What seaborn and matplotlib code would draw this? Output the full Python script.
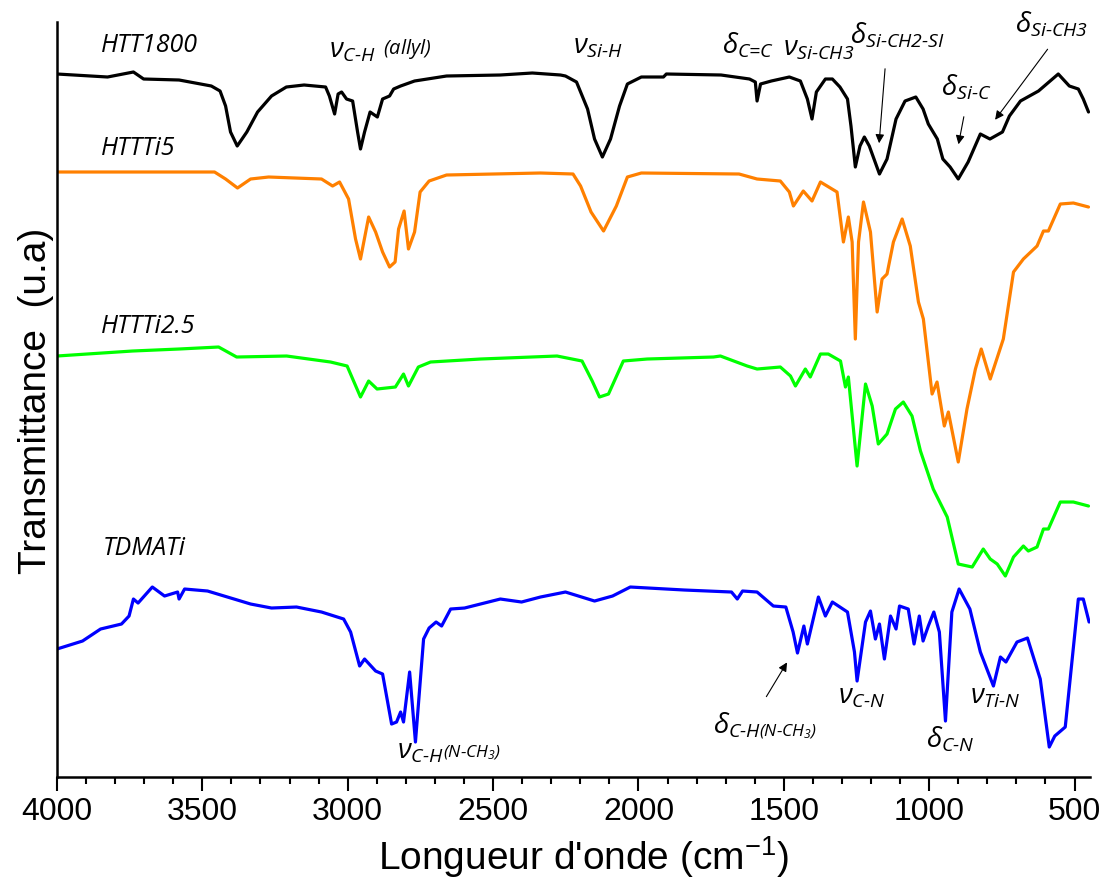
import numpy as np
import pandas as pd
import matplotlib
matplotlib.use("Agg")
import matplotlib.pyplot as plt
from matplotlib.ticker import MultipleLocator
import seaborn as sns

# wavenumbers (cm-1) and transmittance (arbitrary units, stacked)
wn_htt1800 = [4000, 3826, 3737, 3702, 3580, 3469, 3439, 3420, 3403, 3380, 3347, 3310, 3262, 3211,
              3150, 3076, 3063, 3045, 3033, 3021, 3004, 2983, 2966, 2956, 2942, 2923, 2898, 2880,
              2856, 2842, 2818, 2770, 2660, 2475, 2365, 2268, 2251, 2213, 2175, 2151, 2124, 2096,
              2065, 2038, 1990, 1914, 1904, 1716, 1618, 1598, 1592, 1580, 1543, 1481, 1443, 1419,
              1403, 1388, 1357, 1333, 1307, 1281, 1269, 1254, 1238, 1223, 1206, 1171, 1145, 1114,
              1083, 1046, 1021, 1003, 972, 953, 928, 900, 866, 824, 791, 748, 724, 686, 624, 556,
              518, 487, 470, 452]
t_htt1800 = [703, 700, 705, 698, 697, 691, 686, 671, 645, 631, 645, 665, 681, 690,
             692, 690, 681, 663, 683, 685, 678, 676, 645, 628, 645, 665, 660, 678,
             681, 688, 691, 696, 701, 702, 704, 702, 701, 695, 668, 638, 620, 638,
             671, 693, 700, 700, 703, 702, 698, 695, 676, 693, 696, 700, 696, 678,
             658, 685, 698, 698, 690, 678, 651, 610, 631, 640, 631, 603, 618, 658,
             676, 680, 668, 653, 638, 618, 610, 598, 615, 643, 638, 645, 661, 676, 686, 703,
             691, 688, 678, 665]

wn_htti5 = [4000, 3458, 3420, 3379, 3334, 3272, 3090, 3052, 3028, 2997, 2973, 2956, 2928, 2904,
            2880, 2856, 2837, 2825, 2806, 2791, 2770, 2751, 2720, 2660, 2337, 2225, 2199, 2163,
            2120, 2076, 2038, 1990, 1654, 1592, 1512, 1481, 1467, 1433, 1403, 1374, 1317, 1295,
            1278, 1265, 1254, 1243, 1226, 1202, 1179, 1162, 1145, 1123, 1093, 1065, 1037, 1020,
            990, 973, 948, 934, 900, 870, 841, 821, 790, 745, 710, 676, 629, 607, 590, 549,
            504, 452]
t_htti5 = [605, 605, 598, 589, 598, 600, 598, 591, 595, 578, 538, 518, 560, 545,
           525, 510, 515, 548, 566, 528, 545, 585, 596, 602, 604, 603, 591, 565,
           546, 571, 600, 604, 603, 598, 596, 585, 571, 586, 576, 595, 585, 535,
           560, 535, 438, 535, 575, 545, 465, 498, 503, 535, 558, 531, 475, 458,
           383, 395, 351, 365, 315, 368, 408, 428, 398, 438, 505, 518, 531, 546, 546, 573,
           574, 570]

wn_htti25 = [4000, 3740, 3580, 3444, 3382, 3210, 3059, 3002, 2956, 2928, 2899, 2836, 2808, 2791,
             2757, 2715, 2543, 2280, 2194, 2159, 2134, 2103, 2052, 1970, 1742, 1718, 1626, 1592,
             1512, 1477, 1460, 1426, 1409, 1374, 1347, 1305, 1288, 1278, 1248, 1219, 1196, 1175,
             1145, 1116, 1089, 1059, 1030, 986, 938, 900, 852, 814, 790, 766, 738, 710, 676,
             659, 629, 607, 590, 549, 504, 452]
t_htti25 = [421, 426, 428, 430, 420, 421, 415, 411, 380, 396, 388, 390, 403, 391,
            410, 415, 418, 421, 416, 396, 380, 383, 416, 418, 420, 421, 411, 408,
            410, 401, 391, 408, 400, 423, 423, 416, 390, 400, 311, 393, 371, 333,
            343, 368, 375, 361, 326, 288, 260, 213, 210, 228, 218, 213, 201, 220, 231,
            226, 230, 248, 248, 275, 275, 271]

wn_tdmati = [4000, 3912, 3850, 3778, 3752, 3737, 3721, 3672, 3630, 3585, 3580, 3561, 3482, 3334,
             3262, 3176, 3090, 3014, 2990, 2959, 2942, 2904, 2880, 2849, 2832, 2818, 2808, 2787,
             2767, 2739, 2720, 2696, 2677, 2646, 2598, 2475, 2402, 2337, 2251, 2151, 2089, 2028,
             1842, 1680, 1660, 1642, 1592, 1536, 1493, 1468, 1453, 1431, 1419, 1381, 1357, 1333,
             1281, 1257, 1248, 1219, 1202, 1185, 1171, 1154, 1133, 1114, 1102, 1072, 1052, 1034,
             1021, 1003, 984, 965, 944, 922, 897, 860, 824, 779, 755, 736, 698, 662, 618, 587,
             568, 532, 487, 470, 450]
t_tdmati = [128, 136, 148, 153, 161, 178, 174, 190, 181, 185, 178, 188, 186, 173,
            169, 170, 165, 158, 145, 111, 118, 106, 103, 53, 55, 65, 55, 105,
            35, 138, 149, 155, 151, 168, 169, 178, 175, 180, 185, 176, 181, 190,
            187, 185, 178, 186, 185, 171, 170, 145, 124, 151, 133, 180, 161, 175,
            165, 125, 96, 155, 166, 138, 153, 118, 161, 148, 171, 168, 133, 161,
            136, 151, 165, 145, 56, 165, 188, 168, 125, 91, 120, 115, 135, 139, 98, 30,
            41, 50, 178, 178, 155]

series_names = ["HTT1800", "HTTTi5", "HTTTi2.5", "TDMATi"]
series_colors = ["#000000", "#ff8000", "#00ff00", "#0000ff"]

# sample name labels (wavenumber, transmittance)
name_pos = [(3850, 726), (3850, 623), (3850, 445), (3843, 223)]

# band assignments: text, wavenumber, transmittance
band_text = [
    r"$\nu_{\text{C-H}}$",
    r"$\nu_{\text{Si-H}}$",
    r"$\delta_{\text{C=C}}$",
    r"$\nu_{\text{Si-CH3}}$",
    r"$\delta_{\text{Si-CH2-SI}}$",
    r"$\delta_{\text{Si-C}}$",
    r"$\delta_{\text{Si-CH3}}$",
    r"$\nu_{\text{C-H}}$",
    r"$\delta_{\text{C-H}}$",
    r"$\nu_{\text{C-N}}$",
    r"$\delta_{\text{C-N}}$",
    r"$\nu_{\text{Ti-N}}$",
]
band_wn = [3064, 2225, 1711, 1503, 1271, 959, 705, 2832, 1743, 1312, 1011, 860]
band_t = [721, 725, 725, 723, 735, 683, 746, 20, 45, 75, 31, 75]

# small raised qualifiers after some bands
qual_text = [r"$\text{(allyl)}$", r"$\text{(N-CH}_{3}\text{)}$", r"$\text{(N-CH}_{3}\text{)}$"]
qual_wn = [2880, 2671, 1586]
qual_t = [724, 21, 42]
qual_size = [14.5, 12.5, 12.5]

# arrows: (from wn, from t) -> (to wn, to t)
arrow_from = [(1151, 711), (879, 663), (587, 730), (1565, 78)]
arrow_to = [(1173, 631), (901, 630), (779, 655), (1484, 117)]

frames = []
for name, w, t in zip(series_names,
                      [wn_htt1800, wn_htti5, wn_htti25, wn_tdmati],
                      [t_htt1800, t_htti5, t_htti25, t_tdmati]):
    frames.append(pd.DataFrame({"wn": w, "T": t, "sample": name}))
df = pd.concat(frames, ignore_index=True)

sns.set_theme(style="ticks")
plt.rcParams["font.family"] = ["Liberation Sans", "DejaVu Sans"]
plt.rcParams["text.color"] = "black"
plt.rcParams["axes.labelcolor"] = "black"
plt.rcParams["xtick.color"] = "black"
plt.rcParams["mathtext.fontset"] = "custom"
plt.rcParams["mathtext.rm"] = "Open Sans:italic"
plt.rcParams["mathtext.it"] = "Open Sans:italic"

fig, ax = plt.subplots(figsize=(11.06, 8.95), dpi=100)
fig.subplots_adjust(left=0.0515, right=0.9855, bottom=0.1307, top=0.9743)

sns.lineplot(data=df, x="wn", y="T", hue="sample", palette=dict(zip(series_names, series_colors)),
             sort=False, estimator=None, linewidth=2.3, legend=False, ax=ax)

ax.set_xlim(4000, 447)
ax.set_ylim(0, 755)
ax.xaxis.set_major_locator(MultipleLocator(500))
ax.xaxis.set_minor_locator(MultipleLocator(100))
ax.tick_params(axis="x", which="major", direction="out", length=10, width=1.5, labelsize=23, pad=4,
               colors="black")
ax.tick_params(axis="x", which="minor", direction="out", length=5, width=1.5, colors="black")
ax.set_yticks([])
sns.despine(ax=ax)
for s in ["left", "bottom"]:
    ax.spines[s].set_linewidth(1.8)
    ax.spines[s].set_color("black")

ax.set_xlabel(r"Longueur d'onde (cm$^{\mathregular{-1}}$)", fontsize=28, color="black")
ax.set_ylabel("Transmittance  (u.a)", fontsize=28, color="black")
ax.xaxis.set_label_coords(0.51, -0.075)
ax.yaxis.set_label_coords(-0.003, 0.5)

for name, (x, y) in zip(series_names, name_pos):
    ax.text(x, y, name, fontsize=18, family="Open Sans", style="italic", va="baseline", color="black")

for txt, x, y in zip(band_text, band_wn, band_t):
    ax.text(x, y, txt, fontsize=20, va="baseline", ha="left", color="black")

for txt, x, y, fs in zip(qual_text, qual_wn, qual_t, qual_size):
    ax.text(x, y, txt, fontsize=fs, va="baseline", ha="left", color="black")

for (x0, y0), (x1, y1) in zip(arrow_from, arrow_to):
    ax.annotate("", xy=(x1, y1), xytext=(x0, y0),
                arrowprops=dict(arrowstyle="-|>", color="black", lw=0.8, mutation_scale=13))

fig.savefig("out.png", dpi=100)
